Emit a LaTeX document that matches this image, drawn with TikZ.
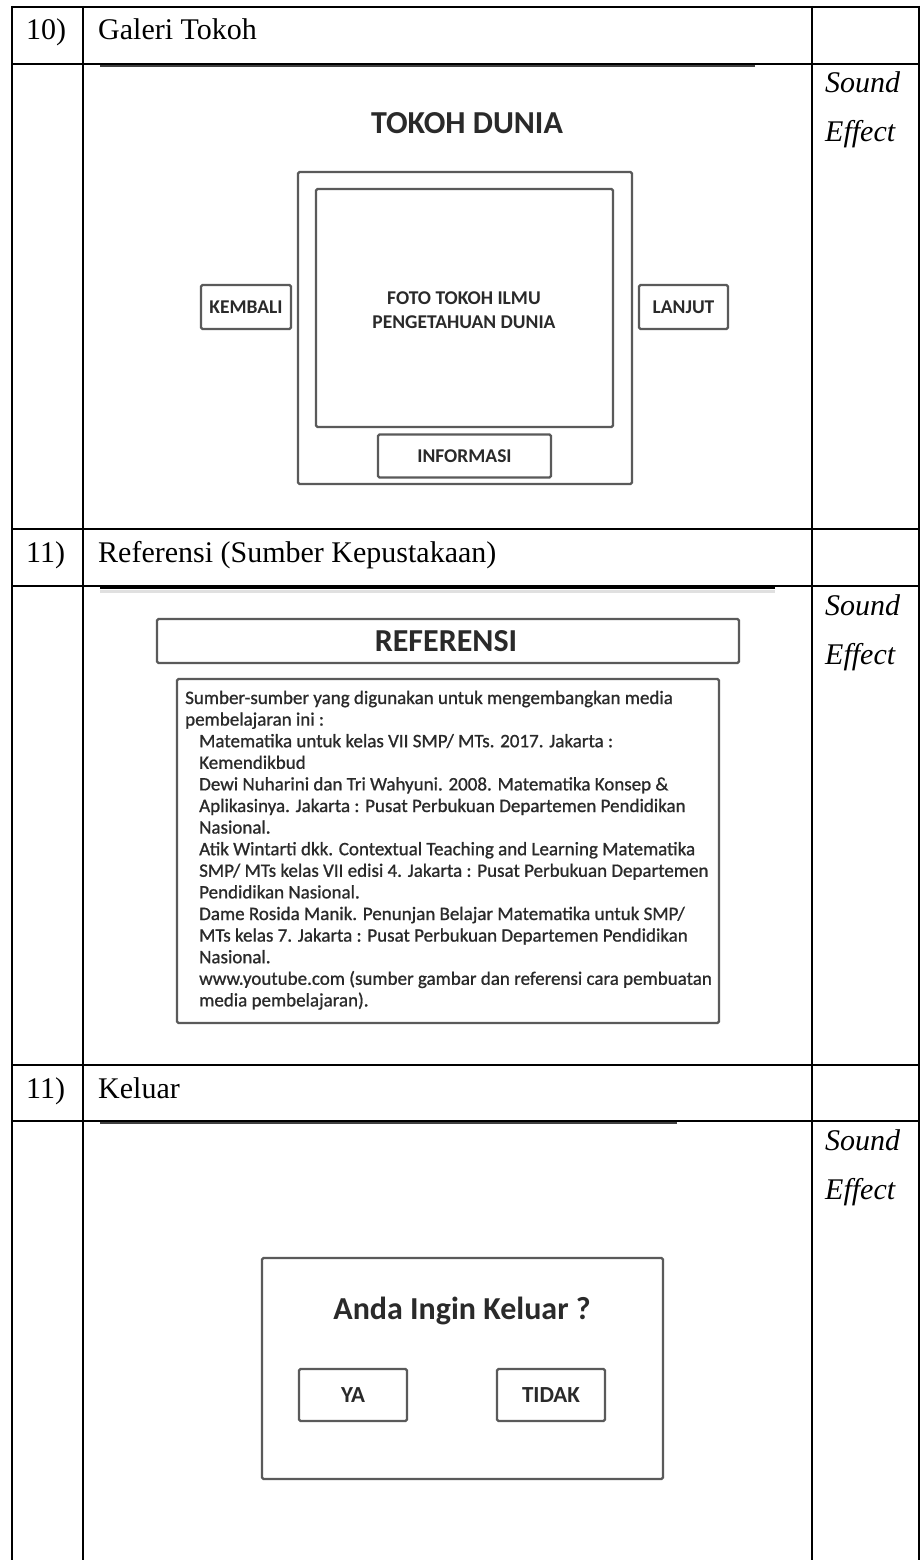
\documentclass[tikz,border=0pt]{standalone}
\usepackage{fontspec}
\setmainfont{Liberation Serif}
\newfontfamily\carl{Carlito}
\newfontfamily\carlfb[FakeBold=0.9]{Carlito}
\definecolor{boxgray}{HTML}{5A5A5A}
\definecolor{txtgray}{HTML}{2A2A2A}
\begin{document}
\begin{tikzpicture}[x=1pt,y=-1pt,
  tline/.style={line width=2.4pt,black},
  artline/.style={line width=1.6pt,black!75},
  mbox/.style={draw=boxgray,line width=2.2pt,rounded corners=1.5pt,inner sep=0pt,fill=white},
  btext/.style={font=\carl\bfseries\fontsize{19.5}{24}\selectfont,text=txtgray,inner sep=0pt},
  ttext/.style={font=\carl\bfseries\fontsize{32}{38}\selectfont,text=txtgray,inner sep=0pt},
  htext/.style={font=\fontsize{30}{36}\selectfont,inner sep=0pt,anchor=base west},
  stext/.style={font=\itshape\fontsize{30}{36}\selectfont,inner sep=0pt,anchor=base west},
  reftext/.style={font=\carlfb\fontsize{19}{21}\selectfont,text=txtgray,inner sep=0pt,anchor=base west}]
\useasboundingbox (0,0) rectangle (921,1560);
\fill[white] (0,0) rectangle (921,1560);

% ---- table grid ----
\foreach \yy in {7,64,529,586,1065,1121}{\draw[tline] (12,\yy) -- (919,\yy);}
\draw[tline] (12,5.8) -- (12,1560);
\draw[tline] (83,5.8) -- (83,1560);
\draw[tline] (812,5.8) -- (812,1560);
\draw[tline] (919,5.8) -- (919,1560);

% artefacts of pasted images (top edges)
\draw[artline] (100,66) -- (755,66);
\draw[line width=2pt,black] (100,588) -- (775,588);
\draw[line width=3pt,black!12] (100,591.5) -- (775,591.5);
\draw[artline] (100,1123) -- (677,1123);

% ---- header texts ----
\node[htext] (n10) at (26,40) {10)};
\node[htext] (h10) at (98,40) {Galeri Tokoh};
\node[htext] (n11a) at (26,562) {11)};
\node[htext] (h11a) at (98,562) {Referensi (Sumber Kepustakaan)};
\node[htext] (n11b) at (26,1098) {11)};
\node[htext] (h11b) at (98,1098) {Keluar};

\node[stext] (s1) at (825,93) {Sound};
\node[stext] (e1) at (825,142) {Effect};
\node[stext] (s2) at (825,615) {Sound};
\node[stext] (e2) at (825,664) {Effect};
\node[stext] (s3) at (825,1150) {Sound};
\node[stext] (e3) at (825,1199) {Effect};

% ---- Galeri Tokoh mockup ----
\node[ttext,anchor=base] (tokoh) at (467,133) {TOKOH DUNIA};
\node[mbox,minimum width=334pt,minimum height=312pt] (frame) at (465,328) {};
\node[mbox,minimum width=297pt,minimum height=238pt] (foto) at (464.5,308) {};
\node[btext,align=center] (fototxt) at (464,310) {FOTO TOKOH ILMU\\PENGETAHUAN DUNIA};
\node[mbox,minimum width=173pt,minimum height=43pt,btext] (info) at (464.5,456) {INFORMASI};
\node[mbox,minimum width=90pt,minimum height=44pt,btext] (kembali) at (246,307) {KEMBALI};
\node[mbox,minimum width=89pt,minimum height=44pt,btext] (lanjut) at (683.5,307) {LANJUT};

% ---- Referensi mockup ----
\node[mbox,minimum width=582pt,minimum height=44pt] (refhead) at (448,641) {};
\node[ttext] (reftitle) at (446,641) {REFERENSI};
\node[mbox,minimum width=542pt,minimum height=344pt] (refbody) at (448,851) {};
\foreach \t [count=\i] in {Sumber-sumber yang digunakan untuk mengembangkan media,
  pembelajaran ini :}
  {\node[reftext] (ra\i) at (185,{704+21.6*(\i-1)}) {\t};}
\foreach \t [count=\i] in {Matematika untuk kelas VII SMP/ MTs. 2017. Jakarta :,
  Kemendikbud,
  Dewi Nuharini dan Tri Wahyuni. 2008. Matematika Konsep \&,
  Aplikasinya. Jakarta : Pusat Perbukuan Departemen Pendidikan,
  Nasional.,
  Atik Wintarti dkk. Contextual Teaching and Learning Matematika,
  SMP/ MTs kelas VII edisi 4. Jakarta : Pusat Perbukuan Departemen,
  Pendidikan Nasional.,
  Dame Rosida Manik. Penunjan Belajar Matematika untuk SMP/,
  MTs kelas 7. Jakarta : Pusat Perbukuan Departemen Pendidikan,
  Nasional.,
  www.youtube.com (sumber gambar dan referensi cara pembuatan,
  media pembelajaran).}
  {\node[reftext] (rb\i) at (199,{704+21.6*(\i+1)}) {\t};}

% ---- Keluar mockup ----
\node[mbox,minimum width=401pt,minimum height=221pt] (dialog) at (462.5,1368.5) {};
\node[ttext] (tanya) at (462,1311) {Anda Ingin Keluar ?};
\node[mbox,minimum width=108pt,minimum height=52pt,font=\carl\bfseries\fontsize{23}{28}\selectfont,text=txtgray] (ya) at (353,1395) {YA};
\node[mbox,minimum width=108pt,minimum height=52pt,font=\carl\bfseries\fontsize{23}{28}\selectfont,text=txtgray] (tidak) at (551,1395) {TIDAK};
\end{tikzpicture}
\end{document}
